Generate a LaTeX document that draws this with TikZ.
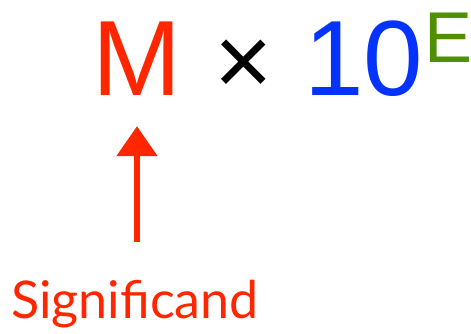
\documentclass[tikz,border=0pt]{standalone}
\usepackage{fontspec}
\setmainfont{Liberation Sans}
\newfontfamily\labelfont{Lato}
\usetikzlibrary{arrows.meta}
\definecolor{sigred}{RGB}{255,38,0}
\definecolor{baseblue}{RGB}{4,51,255}
\definecolor{expgreen}{RGB}{79,143,0}
\tikzset{
  bigtxt/.style={inner sep=0pt, anchor=base, font=\fontsize{107}{107}\selectfont},
  exptxt/.style={inner sep=0pt, anchor=base west, font=\fontsize{72}{72}\selectfont},
}
\begin{document}
\begin{tikzpicture}[x=1pt,y=-1pt]
  \useasboundingbox (0,0) rectangle (471,333);
  \node[bigtxt, text=sigred] (mant) at (137,95) {M};
  \node[bigtxt, text=black, font=\fontsize{100}{100}\selectfont] (times) at (244,95) {×};
  \node[bigtxt, text=baseblue] (base) at (364,95) {10};
  \node[exptxt, text=expgreen] (expo) at (424,62) {E};
  \node[inner sep=0pt, anchor=base, text=sigred, font=\labelfont\fontsize{52}{52}\selectfont] (sig) at (135,318) {Significand};
  % arrow up to the mantissa
  \draw[sigred, line width=5.5pt, -{Triangle[width=40pt,length=30pt]}, shorten <=38pt, shorten >=31pt] (mant.south |- sig.north) -- (mant.south);
\end{tikzpicture}
\end{document}
